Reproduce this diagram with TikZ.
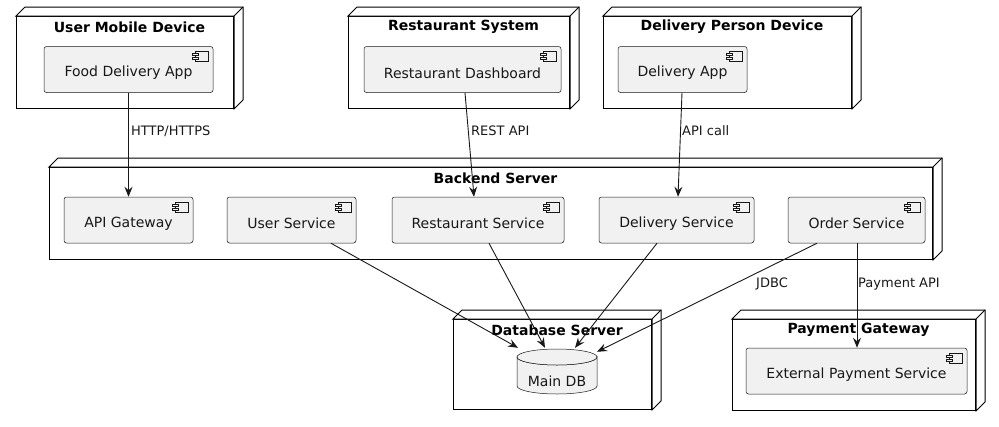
\documentclass[tikz,border=0pt]{standalone}
\usepackage{fontspec}
\setmainfont{DejaVu Sans}
\usetikzlibrary{arrows.meta,calc}
\definecolor{compfill}{HTML}{F1F1F1}
\definecolor{lineclr}{HTML}{181818}
\tikzset{
  devnode/.style={draw=black, line width=1pt, fill=white, inner sep=0pt, anchor=north west},
  nodetitle/.style={font=\fontsize{14}{16}\bfseries\selectfont, inner sep=0pt},
  comp/.style={draw=lineclr, line width=0.5pt, fill=compfill, rounded corners=2.5pt, inner sep=0pt, minimum height=46pt},
  comptext/.style={font=\fontsize{14}{16}\selectfont, inner sep=0pt, text=lineclr},
  iconln/.style={draw=lineclr, line width=0.5pt, fill=compfill},
  dbshape/.style={draw=lineclr, line width=0.5pt, fill=compfill},
  conn/.style={draw=lineclr, line width=0.9pt, -{Stealth[length=10pt,width=8pt,inset=3.5pt]}},
  lbl/.style={font=\fontsize{13}{15}\selectfont, inner sep=0pt, anchor=west, text=lineclr},
}
% 3D node: name, x, y, width, height, title
\newcommand\devnodebox[6]{%
  \node[devnode, minimum width=#4pt, minimum height=#5pt] (#1) at (#2,#3) {};
  \draw[line width=1pt, fill=white] (#1.north west) -- ++(9,-9) -- ($(#1.north east)+(9,-9)$) -- ($(#1.south east)+(9,-9)$) -- (#1.south east) -- (#1.north east) -- cycle;
  \draw[line width=1pt] (#1.north east) -- ++(9,-9);
  \node[nodetitle] (#1-t) at ($(#1.north)+(4.5,11)$) {#6};
}
% component: name, cx, cy, width, text
\newcommand\compbox[5]{%
  \node[comp, minimum width=#4pt] (#1) at (#2,#3) {};
  \node[comptext] (#1-t) at ($(#1.center)+(0,3.5)$) {#5};
  \path[iconln] ($(#1.north east)+(-18,5)$) rectangle ($(#1.north east)+(-5,15)$);
  \path[iconln] ($(#1.north east)+(-21,7)$) rectangle ($(#1.north east)+(-15,9)$);
  \path[iconln] ($(#1.north east)+(-21,11)$) rectangle ($(#1.north east)+(-15,13)$);
}
\begin{document}
\begin{tikzpicture}[x=1pt, y=-1pt]
\useasboundingbox (0,0) rectangle (999,426);

% deployment nodes
\devnodebox{umd}{16}{16}{217}{92}{User Mobile Device}
\devnodebox{rsys}{348}{16}{221}{92}{Restaurant System}
\devnodebox{dpd}{603}{16}{248}{92}{Delivery Person Device}
\devnodebox{backend}{49}{167}{883}{92}{Backend Server}
\devnodebox{dbs}{453}{319}{198}{90}{Database Server}
\devnodebox{pay}{732}{319}{243}{91}{Payment Gateway}

% components
\compbox{fda}{128.5}{69.5}{169}{Food Delivery App}
\compbox{rd}{462.5}{69.5}{197}{Restaurant Dashboard}
\compbox{da}{682.5}{69.5}{129}{Delivery App}
\compbox{apig}{128.5}{220}{129}{API Gateway}
\compbox{us}{291.5}{220}{129}{User Service}
\compbox{rs}{478}{220}{172}{Restaurant Service}
\compbox{ds}{676.5}{220}{155}{Delivery Service}
\compbox{os}{856.5}{220}{137}{Order Service}
\compbox{eps}{856.5}{371}{221}{External Payment Service}

% database (cylinder)
\node[inner sep=0pt, minimum width=80pt, minimum height=45pt] (db) at (557,371.5) {};
\path[dbshape] (517,357) -- (517,386) arc[start angle=180, end angle=0, x radius=40, y radius=8] -- (597,357) arc[start angle=0, end angle=180, x radius=40, y radius=8] -- cycle;
\path[dbshape] (557,357) ellipse[x radius=40, y radius=8];
\node[comptext] (db-t) at (557,381) {Main DB};

% connectors
\draw[conn] (fda.south) -- (apig.north);
\draw[conn] ([xshift=2.5pt]rd.south) -- ([xshift=-4pt]rs.north);
\draw[conn] ([xshift=-0.5pt]da.south) -- ([xshift=1.5pt]ds.north);
\draw[conn] ([xshift=39.5pt]us.south) -- ($(db.north)+(-39,-1)$);
\draw[conn] ([xshift=11pt]rs.south) -- ($(db.north)+(-12,-1)$);
\draw[conn] ([xshift=-19.5pt]ds.south) -- ($(db.north)+(18,-1)$);
\draw[conn] ([xshift=-39.5pt]os.south) -- ($(db.north)+(40,3)$);
\draw[conn] ([xshift=0.5pt]os.south) -- ([xshift=0.5pt]eps.north);

% labels
\node[lbl] (l1) at (131,131) {HTTP/HTTPS};
\node[lbl] (l2) at (471,131) {REST API};
\node[lbl] (l3) at (682,131) {API call};
\node[lbl] (l4) at (756,284) {JDBC};
\node[lbl] (l5) at (858,284) {Payment API};
\end{tikzpicture}
\end{document}
